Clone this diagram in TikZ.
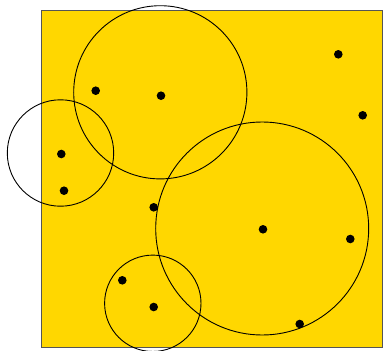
\documentclass[tikz,border=0pt]{standalone}
\definecolor{gold}{HTML}{FFD700}
\definecolor{edgegray}{HTML}{555555}
\tikzset{
  dot/.style={circle,fill=black,inner sep=0pt,minimum size=8.6pt},
  ring/.style={draw=black,line width=0.9pt},
}
\begin{document}
\begin{tikzpicture}[x=1pt,y=-1pt]
\useasboundingbox (0,0) rectangle (384,351);
\fill[gold,draw=edgegray,line width=1pt] (41,10) rectangle (382,347);
% circles
\draw[ring] (160.3,92.3) circle (86.6);
\draw[ring] (60.5,153) circle (53.2);
\draw[ring] (262.2,228.5) circle (106.5);
\draw[ring] (152.8,303.3) circle (48.2);
% dots
\node[dot] (d1) at (338.3,54.3) {};
\node[dot] (d2) at (95.7,90.7) {};
\node[dot] (d3) at (161,95.7) {};
\node[dot] (d4) at (362.7,115.3) {};
\node[dot] (d5) at (61.3,154) {};
\node[dot] (d6) at (64,190.7) {};
\node[dot] (d7) at (153.7,207.3) {};
\node[dot] (d8) at (263,229.3) {};
\node[dot] (d9) at (350.3,239) {};
\node[dot] (d10) at (122.3,280.3) {};
\node[dot] (d11) at (153.7,307) {};
\node[dot] (d12) at (299.7,324) {};
\end{tikzpicture}
\end{document}
